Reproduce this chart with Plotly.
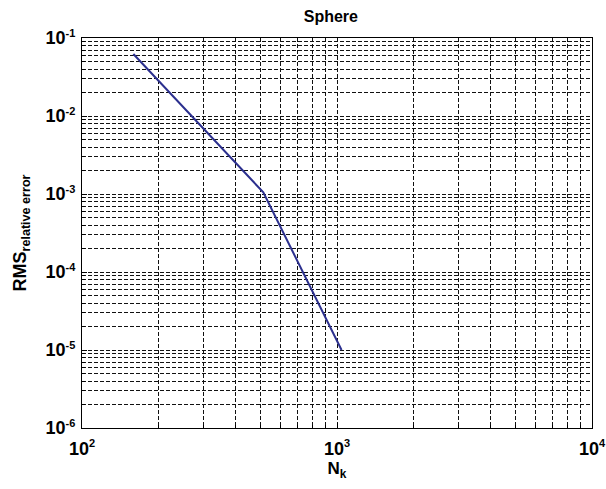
import plotly.graph_objects as go

# Data
nk = [159, 514, 1042]
rms_err = [0.0623, 0.00105, 1.0e-5]

x_decades = [100, 1000, 10000]
x_exponents = ["2", "3", "4"]
y_decades = [1e-6, 1e-5, 1e-4, 1e-3, 1e-2, 1e-1]
y_exponents = ["-6", "-5", "-4", "-3", "-2", "-1"]


def lab(e):
    return "<b>10</b><sup><b><span style='font-size:11px'>" + e + "</span></b></sup>"


def minor_vals(decades):
    vals = []
    for d in decades[:-1]:
        for m in range(2, 10):
            vals.append(d * m)
    return vals


font = dict(family="Liberation Sans, Arial, sans-serif", color="black")
dash = "4px,2px"

fig = go.Figure()
fig.add_trace(go.Scatter(x=nk, y=rms_err, mode="lines",
                         line=dict(color="#2b2f8e", width=2), showlegend=False))

axis_common = dict(
    type="log", showgrid=True, gridcolor="#111111", gridwidth=1, griddash=dash,
    showline=True, linecolor="black", linewidth=1, mirror=True,
    ticks="inside", ticklen=5, tickcolor="black", zeroline=False,
    tickfont=dict(size=18, **font), automargin=False,
)

fig.update_layout(
    width=606, height=489,
    margin=dict(l=82, r=14, t=38, b=61),
    paper_bgcolor="white", plot_bgcolor="white",
    title=dict(text="<b>Sphere</b>", xref="container", x=0.546, xanchor="center",
               yref="container", y=0.967, yanchor="middle",
               font=dict(size=16, **font)),
    xaxis=dict(range=[2, 4], tickmode="array", tickvals=x_decades,
               ticktext=[lab(e) for e in x_exponents], ticklabelstandoff=4,
               minor=dict(tickmode="array", tickvals=minor_vals(x_decades), showgrid=True,
                          gridcolor="#111111", gridwidth=1, griddash=dash,
                          ticks="inside", ticklen=3, tickcolor="black"),
               title=dict(text="<b>N<sub>k</sub></b>", font=dict(size=17, **font), standoff=4),
               **axis_common),
    yaxis=dict(range=[-6, -1], tickmode="array", tickvals=y_decades,
               ticktext=[lab(e) for e in y_exponents], ticklabelstandoff=2,
               minor=dict(tickmode="array", tickvals=minor_vals(y_decades), showgrid=True,
                          gridcolor="#111111", gridwidth=1, griddash=dash,
                          ticks="inside", ticklen=3, tickcolor="black"),
               title=dict(text="<b>RMS<sub>relative error</sub></b>", font=dict(size=18, **font), standoff=14),
               **axis_common),
)

fig.write_html("out.html",
               config={"displayModeBar": False},
               post_script="document.body.style.margin='0';document.body.style.padding='0';"
                           "document.body.style.overflow='hidden';")
